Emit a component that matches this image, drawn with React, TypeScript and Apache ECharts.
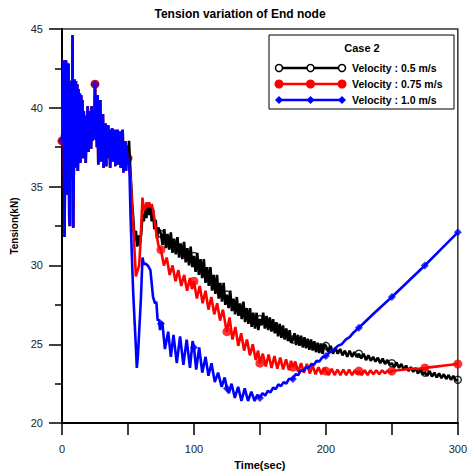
import React, { useEffect, useRef } from "react";
import * as echarts from "echarts";

// Shared first 50 s (all three cases coincide), 0.5-s steps
const earlyStep = 0.5;
const earlyShared: number[] = [
  37.9, 39.0, 43.0, 36.0, 31.8, 42.9, 43.0, 35.0, 34.5, 42.8,
  42.7, 33.0, 32.5, 41.7, 41.6, 35.5, 44.6, 32.4, 36.5, 41.8,
  38.0, 41.7, 36.2, 41.5, 36.0, 41.2, 37.5, 40.9, 36.5, 40.8,
  37.2, 40.5, 36.8, 39.8, 37.5, 39.5, 36.5, 39.3, 37.6, 40.1,
  37.2, 39.8, 38.0, 39.6, 37.4, 40.1, 37.9, 39.4, 38.0, 38.5,
  41.5, 38.0, 39.8, 37.5, 40.8, 36.4, 40.3, 37.2, 40.5, 36.6,
  39.3, 37.4, 39.6, 36.2, 38.9, 37.0, 39.0, 36.3, 38.8, 37.2,
  38.9, 36.8, 38.6, 36.2, 38.5, 37.0, 38.7, 36.6, 38.3, 37.1,
  38.6, 36.3, 38.2, 36.9, 38.6, 36.4, 38.1, 36.8, 38.5, 36.2,
  38.0, 36.7, 38.6, 35.9, 37.8, 36.5, 37.9, 36.0, 37.6, 36.4,
  36.8,
];

const blackLate: [number, number][] = [
  [50.8, 37.9], [51.5, 36.6], [52.5, 35.0], [53.2, 33.9], [54, 33.0], [55, 31.6], [56, 32.2], [57, 31.2],
  [58, 31.9], [59, 31.3], [60, 32.0], [61, 33.2], [62, 32.8], [63, 33.6], [64, 33.0], [65, 33.8],
  [66, 33.2], [67, 33.8], [68, 32.8], [69, 33.6], [70, 32.3], [71, 32.9], [72, 31.7], [73, 32.4],
  [75, 32.0], [76.25, 31.3], [77.5, 32.3], [78.75, 31.1], [80, 32.0], [81.25, 31.0], [82.5, 32.1],
  [83.75, 30.8], [85, 31.7], [86.25, 30.7], [87.5, 31.8], [88.75, 30.5], [90, 31.4], [91.25, 30.4],
  [92.5, 31.5], [93.75, 30.2], [95, 31.1], [96.25, 30.0], [97.5, 31.2], [98.75, 29.9], [100, 30.6],
  [101.25, 29.6], [102.5, 30.8], [103.75, 29.4], [105, 30.4], [106.25, 29.2], [107.5, 30.4], [108.75, 28.9],
  [110, 29.9], [111.25, 28.7], [112.5, 29.9], [113.75, 28.4], [115, 29.4], [116.25, 28.2], [117.5, 29.4],
  [118.75, 27.9], [120, 28.9], [121.25, 27.7], [122.5, 28.9], [123.75, 27.5], [125, 28.15], [126.25, 27.3],
  [127.5, 28.4], [128.75, 27.1], [130, 27.9], [131.25, 26.9], [132.5, 28.0], [133.75, 26.8], [135, 27.6],
  [136.25, 26.6], [137.5, 27.7], [138.75, 26.4], [140, 27.3], [141.25, 26.3], [142.5, 27.3], [143.75, 26.1],
  [145, 27.0], [146.25, 26.0], [147.5, 27.0], [148.75, 25.9], [150, 26.6], [151.25, 26.2], [152.5, 27.0],
  [153.75, 26.0], [155, 26.8], [156.25, 25.9], [157.5, 26.7], [158.75, 25.8], [160, 26.6], [161.25, 25.7],
  [162.5, 26.4], [163.75, 25.5], [165, 26.3], [166.25, 25.4], [167.5, 26.2], [168.75, 25.3], [170, 26.0],
  [171.25, 25.2], [172.5, 25.9], [173.75, 25.1], [175, 25.3], [176.25, 25.7], [177.5, 24.95], [178.75, 25.6],
  [180, 24.9], [181.25, 25.55], [182.5, 24.8], [183.75, 25.45], [185, 24.75], [186.25, 25.35], [187.5, 24.65],
  [188.75, 25.3], [190, 24.6], [191.25, 25.2], [192.5, 24.5], [193.75, 25.1], [195, 24.45], [196.25, 25.05],
  [197.5, 24.4], [198.75, 25.0], [200, 24.9], [201.8, 24.5], [203.6, 24.9], [205.4, 24.4], [207.2, 24.8],
  [209, 24.4], [210.8, 24.7], [212.6, 24.3], [214.4, 24.6], [216.2, 24.2], [218, 24.6], [219.8, 24.2],
  [221.6, 24.5], [223.4, 24.2], [225, 24.4], [226.8, 24.1], [228.6, 24.4], [230.4, 24.0], [232.2, 24.3],
  [234, 23.95], [235.8, 24.2], [237.6, 23.9], [239.4, 24.15], [241.2, 23.8], [243, 24.1], [244.8, 23.75],
  [246.6, 24.0], [248.4, 23.7], [250, 23.8], [251.8, 23.55], [253.6, 23.85], [255.4, 23.5], [257.2, 23.75],
  [259, 23.4], [260.8, 23.65], [262.6, 23.3], [264.4, 23.55], [266.2, 23.25], [268, 23.5], [269.8, 23.15],
  [271.6, 23.4], [273.4, 23.1], [275, 23.2], [276.8, 23.0], [278.6, 23.3], [280.4, 22.95], [282.2, 23.2],
  [284, 22.9], [285.8, 23.15], [287.6, 22.85], [289.4, 23.1], [291.2, 22.8], [293, 23.05], [294.8, 22.75],
  [296.6, 23.0], [298.4, 22.7], [300, 22.75],
];

const redLate: [number, number][] = [
  [52, 35.5], [53, 33.8], [54, 32.5], [55, 30.9], [56, 29.3], [57, 29.6], [58.5, 30.0], [59.5, 31.5],
  [60.3, 33.0], [61, 34.3], [62, 33.5], [63, 33.6], [64, 34.0], [65, 33.7], [66, 34.0], [67, 33.7],
  [68, 33.9], [69, 33.5], [70, 33.0], [71, 32.3], [72, 31.8], [73, 31.3], [74, 31.1], [75, 31.0],
  [77.2, 30.0], [79.4, 30.5], [81.6, 29.4], [83.8, 30.0], [86, 29.0], [88.2, 29.7], [90.4, 28.7],
  [92.6, 29.4], [94.8, 28.4], [97, 29.2], [98.5, 28.5], [100, 29.0], [102.2, 27.9], [104.4, 28.7],
  [106.6, 27.6], [108.8, 28.4], [111, 27.2], [113.2, 28.0], [115.4, 26.9], [117.6, 27.6], [119.8, 26.5],
  [122, 27.2], [124, 26.2], [125, 25.8], [127, 26.7], [129.2, 25.3], [131.4, 26.1], [133.6, 24.9],
  [135.8, 25.7], [138, 24.6], [140.2, 25.3], [142.4, 24.3], [144.6, 25.0], [146.8, 24.0], [148.6, 24.6],
  [150, 23.8], [152.2, 24.4], [154.4, 23.6], [156.6, 24.35], [158.8, 23.5], [161, 24.25], [163.2, 23.45],
  [165.4, 24.15], [167.6, 23.4], [169.8, 24.05], [172, 23.35], [173.6, 23.95], [175, 23.55], [176.8, 23.9],
  [179, 23.25], [181.2, 23.8], [183.4, 23.2], [185.6, 23.75], [187.8, 23.15], [190, 23.65], [192.2, 23.1],
  [194.4, 23.55], [196.6, 23.1], [198.4, 23.5], [200, 23.3], [202.2, 23.05], [204.4, 23.45], [206.6, 23.05],
  [208.8, 23.4], [211, 23.05], [213.2, 23.4], [215.4, 23.05], [217.6, 23.4], [219.8, 23.05], [222, 23.35],
  [223.6, 23.1], [225, 23.3], [227.2, 23.05], [229.4, 23.35], [231.6, 23.05], [233.8, 23.35], [236, 23.1],
  [238.2, 23.35], [240.4, 23.1], [242.6, 23.35], [244.8, 23.15], [247, 23.35], [248.6, 23.2], [250, 23.3],
  [255, 23.35], [260, 23.4], [265, 23.45], [270, 23.45], [275, 23.5], [280, 23.55], [285, 23.6],
  [290, 23.65], [295, 23.7], [300, 23.75],
];

const blueLate: [number, number][] = [
  [51, 36.5], [52, 33.0], [53, 30.5], [54, 28.2], [55, 26.5], [56, 24.8], [56.7, 23.5], [57.5, 24.2],
  [58.5, 25.8], [59.8, 27.9], [61, 30.5], [62, 30.1], [63.5, 30.1], [65, 30.0], [67, 29.7], [69, 28.0],
  [70.5, 27.6], [71.5, 27.7], [72.5, 26.5], [73.5, 26.6], [74.3, 25.9], [75, 26.3], [76, 26.4],
  [78, 24.7], [80.5, 25.8], [82.5, 24.2], [84.5, 25.6], [87, 23.8], [89.5, 25.5], [92, 23.7],
  [94.5, 25.3], [97, 23.5], [99, 25.2], [100, 24.8], [101.7, 23.4], [104, 24.8], [106.3, 23.2],
  [108.8, 24.2], [111, 23.0], [113.3, 23.8], [115.8, 22.6], [118.3, 23.2], [121, 22.3], [123.3, 22.9],
  [125, 22.2], [126.5, 21.9], [128.5, 22.5], [131, 21.6], [133.5, 22.3], [136, 21.4], [138.5, 22.2],
  [141, 21.4], [143.5, 22.0], [146, 21.4], [148, 21.8], [150, 21.6], [152, 21.9], [154, 21.75],
  [156, 22.05], [158, 21.95], [160, 22.25], [162, 22.15], [164, 22.45], [166, 22.35], [168, 22.6],
  [170, 22.5], [172, 22.8], [175, 22.8], [177, 23.1], [179, 23.05], [181, 23.35], [183, 23.3],
  [185, 23.55], [187, 23.5], [189, 23.75], [191, 23.7], [193, 23.95], [195, 23.9], [197, 24.15],
  [200, 24.25], [203, 24.5], [206, 24.65], [209, 24.9], [212, 25.0], [215, 25.3], [218, 25.45],
  [221, 25.75], [225, 26.05], [237.5, 27.05], [250, 28.0], [262.5, 29.0], [275, 30.0], [287.5, 31.05],
  [300, 32.1],
];

const seriesNames = ["Velocity : 0.5 m/s", "Velocity : 0.75 m/s", "Velocity : 1.0 m/s"];
const seriesColors = ["#000000", "#ff0000", "#0000ff"];
const titleText = "Tension variation of End node";
const legendTitle = "Case 2";
const xName = "Time(sec)";
const yName = "Tension(kN)";

export default function App() {
  const ref = useRef<HTMLDivElement>(null);
  useEffect(() => {
    if (!ref.current) return;
    const chart = echarts.init(ref.current, undefined, { renderer: "svg" });
    const early = earlyShared.map((v, i) => [i * earlyStep, v] as [number, number]);
    const datasets = [early.concat(blackLate), early.concat(redLate), early.concat(blueLate)];
    const markers = datasets.map((d) => d.filter(([t]) => t % 25 === 0));
    const symStyles = [
      { symbol: "circle", symbolSize: 7, itemStyle: { color: "rgba(255,255,255,0)", borderColor: "#000", borderWidth: 1.5 } },
      { symbol: "circle", symbolSize: 9, itemStyle: { color: "#ff0000" } },
      { symbol: "diamond", symbolSize: 8, itemStyle: { color: "#0000ff" } },
    ];
    const series: any[] = [];
    datasets.forEach((d, i) => {
      series.push({
        type: "line",
        name: seriesNames[i],
        data: d,
        showSymbol: false,
        symbol: "none",
        lineStyle: { color: seriesColors[i], width: 2.6 },
        silent: true,
      });
      series.push({
        type: "scatter",
        name: seriesNames[i] + " markers",
        data: markers[i],
        ...symStyles[i],
        silent: true,
      });
    });

    const lx1 = 279, lx2 = 342, lxm = 310.5;
    const rows = [68, 84, 100];
    const legendEls: any[] = [
      { type: "rect", shape: { x: 269, y: 35, width: 185, height: 74 }, style: { fill: "#fff", stroke: "#000", lineWidth: 1 } },
      { type: "text", x: 362, y: 48, style: { text: legendTitle, font: "bold 11px 'Liberation Sans', Arial, sans-serif", fill: "#000", align: "center", verticalAlign: "middle" } },
    ];
    rows.forEach((y, i) => {
      legendEls.push({ type: "line", shape: { x1: lx1, y1: y, x2: lx2, y2: y }, style: { stroke: seriesColors[i], lineWidth: 2.4 } });
      [lx1, lxm, lx2].forEach((x) => {
        if (i === 0) legendEls.push({ type: "circle", shape: { cx: x, cy: y, r: 3.5 }, style: { fill: "#fff", stroke: "#000", lineWidth: 1.5 } });
        else if (i === 1) legendEls.push({ type: "circle", shape: { cx: x, cy: y, r: 4.5 }, style: { fill: "#ff0000" } });
        else legendEls.push({ type: "polygon", shape: { points: [[x, y - 4], [x + 4, y], [x, y + 4], [x - 4, y]] }, style: { fill: "#0000ff" } });
      });
      legendEls.push({ type: "text", x: 352, y: y, style: { text: seriesNames[i], font: "bold 10.5px 'Liberation Sans', Arial, sans-serif", fill: "#000", align: "left", verticalAlign: "middle" } });
    });

    chart.setOption({
      animation: false,
      backgroundColor: "#fff",
      grid: { left: 62, right: 10, top: 29, bottom: 49, show: true, borderColor: "#333", borderWidth: 1.5 },
      xAxis: {
        type: "value",
        min: 0,
        max: 300,
        interval: 50,
        name: xName,
        nameLocation: "middle",
        nameGap: 33,
        nameTextStyle: { fontFamily: "'Liberation Sans', Arial, sans-serif", fontWeight: "bold", fontSize: 11, color: "#000" },
        axisLine: { show: true, lineStyle: { color: "#000", width: 2 } },
        axisTick: { show: true, length: 12, lineStyle: { color: "#000", width: 1.5 } },
        axisLabel: {
          margin: 20,
          fontFamily: "'Liberation Sans', Arial, sans-serif",
          fontSize: 11,
          color: "#222",
          formatter: (v: number) => (v % 100 === 0 ? String(v) : ""),
        },
        splitLine: { show: false },
      },
      yAxis: {
        type: "value",
        min: 20,
        max: 45,
        interval: 5,
        name: yName,
        nameLocation: "middle",
        nameGap: 37,
        nameTextStyle: { fontFamily: "'Liberation Sans', Arial, sans-serif", fontWeight: "bold", fontSize: 10, color: "#000" },
        axisLine: { show: true, lineStyle: { color: "#000", width: 2 } },
        axisTick: { show: true, length: 13, lineStyle: { color: "#000", width: 1.5 } },
        minorTick: { show: true, splitNumber: 2, length: 7, lineStyle: { color: "#000", width: 1.5 } },
        axisLabel: { margin: 19, fontFamily: "'Liberation Sans', Arial, sans-serif", fontSize: 11, color: "#222" },
        splitLine: { show: false },
      },
      graphic: [
        { type: "text", x: 240, y: 14, z: 100, style: { text: titleText, font: "bold 12px 'Liberation Sans', Arial, sans-serif", fill: "#000", align: "center", verticalAlign: "middle" } },
        { type: "group", z: 100, children: legendEls },
      ],
      series,
    });
    return () => chart.dispose();
  }, []);
  return <div ref={ref} style={{ position: "absolute", left: 0, top: 0, width: 470, height: 475 }} />;
}
